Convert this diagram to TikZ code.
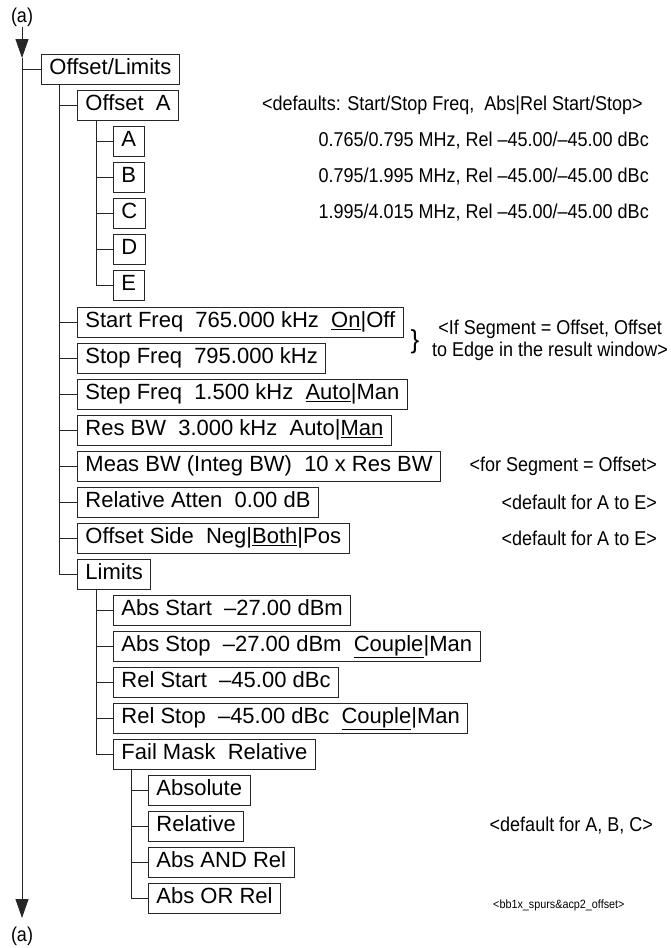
\documentclass[tikz,border=0pt]{standalone}
\usepackage{fontspec}
\setmainfont{Liberation Sans}
\newfontfamily\narrowfont{Liberation Sans}[FakeStretch=0.9]
\usetikzlibrary{arrows.meta}

\tikzset{
  menubox/.style={draw=black!85,line width=0.9pt,anchor=west,minimum height=30pt,
    inner xsep=8pt,inner ysep=0pt,text height=15pt,text depth=4pt,
    font=\fontsize{22}{24}\selectfont},
  note/.style={inner sep=0pt,font=\narrowfont\fontsize{20}{22}\selectfont},
  branch/.style={line width=0.9pt,draw=black!85},
  tip/.style={-{Triangle[length=19pt,width=13pt]}},
}

\begin{document}
\begin{tikzpicture}[x=1pt,y=-1pt]
  \useasboundingbox (0,0) rectangle (670,948);
  % return points of the menu
  \node[note] (topa) at (22,17) {(a)};
  \node[note] (bota) at (22,936) {(a)};
  \coordinate (tip1) at (22,58);
  \coordinate (tip2) at (22,918);
  % top level
  \node[menubox] (ol) at (41,69) {Offset/Limits};
  % first level
  \node[menubox] (oa)    at (77,105) {Offset\ \ A};
  \node[menubox] (sf)    at (77,322) {Start Freq\ \ 765.000 kHz\ \ \underline{On}|Off};
  \node[menubox] (spf)   at (77,358) {Stop Freq\ \ 795.000 kHz};
  \node[menubox] (stf)   at (77,394) {Step Freq\ \ 1.500 kHz\ \ \underline{Auto}|Man};
  \node[menubox] (rbw)   at (77,430) {Res BW\ \ 3.000 kHz\ \ Auto|\underline{Man}};
  \node[menubox] (mbw)   at (77,466) {Meas BW (Integ BW)\ \ 10 x Res BW};
  \node[menubox] (ratt)  at (77,502) {Relative Atten\ \ 0.00 dB};
  \node[menubox] (oside) at (77,538) {Offset Side\ \ Neg|\underline{Both}|Pos};
  \node[menubox] (lim)   at (77,574) {Limits};
  % offsets A to E
  \foreach \o/\y in {A/141,B/177,C/213,D/249,E/285}
    \node[menubox] (off\o) at (113,\y) {\o};
  % limits
  \node[menubox] (abst)  at (113,610) {Abs Start\ \ –27.00 dBm};
  \node[menubox] (absp)  at (113,646) {Abs Stop\ \ –27.00 dBm\ \ \underline{Couple}|Man};
  \node[menubox] (relt)  at (113,682) {Rel Start\ \ –45.00 dBc};
  \node[menubox] (relp)  at (113,718) {Rel Stop\ \ –45.00 dBc\ \ \underline{Couple}|Man};
  \node[menubox] (fmask) at (113,754) {Fail Mask\ \ Relative};
  % fail mask choices
  \node[menubox] (fabs)  at (148,790) {Absolute};
  \node[menubox] (frel)  at (148,826) {Relative};
  \node[menubox] (fand)  at (148,862) {Abs AND Rel};
  \node[menubox] (for)   at (148,898) {Abs OR Rel};
  % trunk
  \draw[branch,tip] (topa.south) -- (tip1);
  \draw[branch,tip] (tip1) -- (tip2);
  \draw[branch] (tip1 |- ol.west) -- (ol.west);
  % branches
  \foreach \n in {oa,sf,spf,stf,rbw,mbw,ratt,oside,lim}
    \draw[branch] ([xshift=18pt]ol.south west) |- (\n.west);
  \foreach \n in {offA,offB,offC,offD,offE}
    \draw[branch] ([xshift=19pt]oa.south west) |- (\n.west);
  \foreach \n in {abst,absp,relt,relp,fmask}
    \draw[branch] ([xshift=19pt]lim.south west) |- (\n.west);
  \foreach \n in {fabs,frel,fand,for}
    \draw[branch] ([xshift=18pt]fmask.south west) |- (\n.west);
  % notes
  \node[note,anchor=west] (ndef) at (262,105) {<defaults: Start/Stop Freq,\ \ Abs|Rel Start/Stop>};
  \node[note,anchor=east] (nA) at (649,141) {0.765/0.795 MHz, Rel –45.00/–45.00 dBc};
  \node[note,anchor=east] (nB) at (649,177) {0.795/1.995 MHz, Rel –45.00/–45.00 dBc};
  \node[note,anchor=east] (nC) at (649,213) {1.995/4.015 MHz, Rel –45.00/–45.00 dBc};
  \node[inner sep=0pt,font=\fontsize{26}{26}\selectfont] (brace) at (415,342) {\}};
  \node[note,align=center] (nseg) at (550,340) {<If Segment = Offset, Offset\\to Edge in the result window>};
  \node[note,anchor=east] (nmeas) at (657,466) {<for Segment = Offset>};
  \node[note,anchor=east] (nratt) at (657,502) {<default for A to E>};
  \node[note,anchor=east] (nside) at (657,538) {<default for A to E>};
  \node[note,anchor=east] (nrel) at (653,826) {<default for A, B, C>};
  \node[note,anchor=west,font=\narrowfont\fontsize{12}{14}\selectfont] (nfile) at (493,905) {<bb1x\_spurs\&acp2\_offset>};
\end{tikzpicture}
\end{document}
